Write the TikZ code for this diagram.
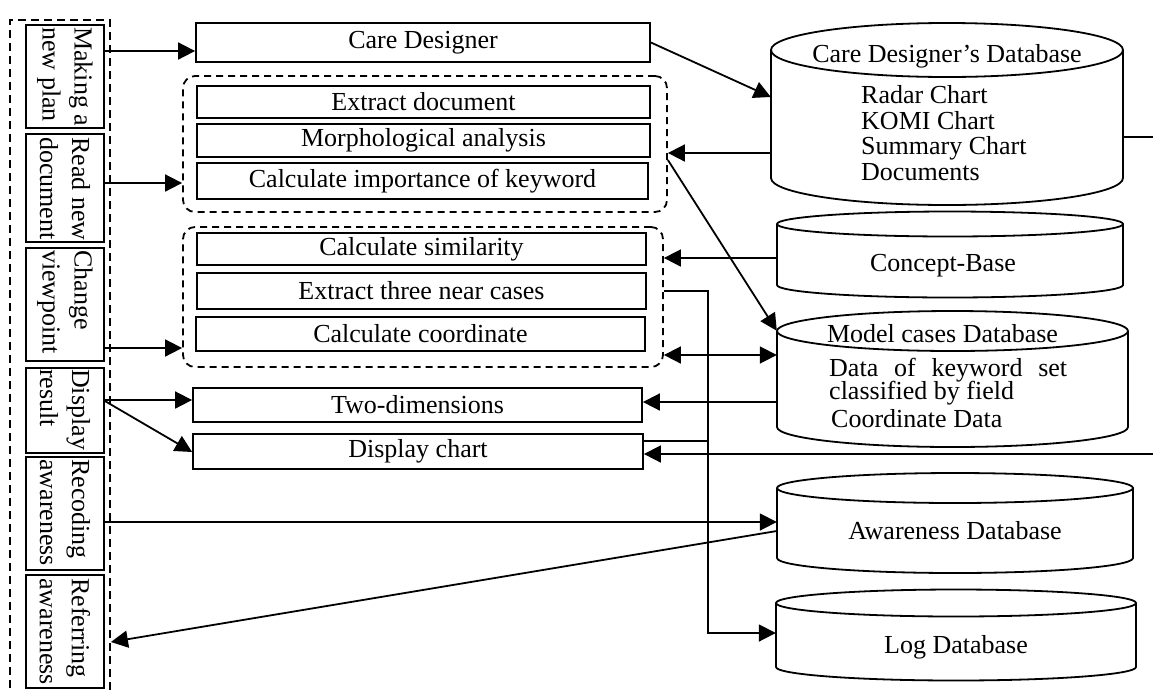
\documentclass[tikz,border=0pt]{standalone}
\usepackage{fontspec}
\setmainfont{Liberation Serif}
\usetikzlibrary{arrows.meta}
\newcommand{\dbshape}[5]{%
  \pgfmathsetmacro\dbrx{(#2-#1)/2}%
  \pgfmathsetmacro\dbcx{(#1+#2)/2}%
  \draw[cyl] (#1,#3) -- (#1,#4) arc[start angle=180,end angle=360,x radius=\dbrx pt,y radius=#5 pt] -- (#2,#3);
  \draw[cyl] (\dbcx,#3) ellipse[x radius=\dbrx pt, y radius=#5 pt];
}
\begin{document}
\begin{tikzpicture}[x=1pt,y=-1pt,
  every node/.style={font=\fontsize{26}{26}\selectfont},
  box/.style={draw, line width=1.8pt, inner sep=0pt},
  grp/.style={draw, dash pattern=on 7pt off 5pt, rounded corners=12pt, line width=1.8pt, inner sep=0pt},
  arr/.style={line width=1.8pt, -{Triangle[length=17pt,width=17pt]}},
  darr/.style={line width=1.8pt, {Triangle[length=17pt,width=17pt]}-{Triangle[length=17pt,width=17pt]}},
  ln/.style={line width=1.8pt},
  cyl/.style={line width=1.8pt},
  ltxt/.style={rotate=-90, anchor=west, align=left, inner sep=0pt, font=\fontsize{26}{32}\selectfont},
  body/.style={inner sep=0pt}
]
\clip (0,0) rectangle (1153,689);

% outer dashed frame
\node[draw, dash pattern=on 8pt off 5pt, line width=1.8pt, minimum width=100pt, minimum height=700pt, inner sep=0pt] (outer) at (60,370) {};

% left boxes
\node[box, minimum width=78pt, minimum height=103pt] (l1) at (65,76.5) {};
\node[box, minimum width=78pt, minimum height=108pt] (l2) at (65,188) {};
\node[box, minimum width=78pt, minimum height=113pt] (l3) at (65,304.5) {};
\node[box, minimum width=78pt, minimum height=85pt] (l4) at (65,410.5) {};
\node[box, minimum width=78pt, minimum height=113pt] (l5) at (65,513.5) {};
\node[box, minimum width=78pt, minimum height=113pt] (l6) at (65,631.5) {};
\node[ltxt] (t1) at (65,27) {Making a\\new plan};
\node[ltxt] (t2) at (65,137) {Read new\\document};
\node[ltxt] (t3) at (65,250) {Change\\viewpoint};
\node[ltxt] (t4) at (65,369) {Display\\result};
\node[ltxt] (t5) at (65,459) {Recoding\\awareness};
\node[ltxt] (t6) at (65,578) {Referring\\awareness};

% process boxes
\node[box, minimum width=454pt, minimum height=39pt] (care) at (423,42.5) {Care Designer};
\node[grp, minimum width=484pt, minimum height=136pt] (g1) at (425,144) {};
\node[box, minimum width=453pt, minimum height=32pt] (ext) at (423.5,102) {Extract document};
\node[box, minimum width=453pt, minimum height=33pt] (morph) at (423.5,140.5) {Morphological analysis};
\node[box, minimum width=451pt, minimum height=36pt] (imp) at (422.5,181) {Calculate importance of keyword};
\node[grp, minimum width=480pt, minimum height=140pt] (g2) at (423,297) {};
\node[box, minimum width=449pt, minimum height=32pt] (sim) at (421.5,249) {Calculate similarity};
\node[box, minimum width=449pt, minimum height=36pt] (near) at (421.5,291) {Extract three near cases};
\node[box, minimum width=449pt, minimum height=34pt] (coord) at (420.5,334) {Calculate coordinate};
\node[box, minimum width=449pt, minimum height=34pt] (two) at (417.5,405) {Two-dimensions};
\node[box, minimum width=450pt, minimum height=35pt] (disp) at (418,451.5) {Display chart};

% databases
\dbshape{771}{1123}{50}{178}{27}
\node[body, minimum width=352pt, minimum height=128pt] (cdb) at (947,114) {};
\node[anchor=base] (cdbt) at (947,62) {Care Designer’s Database};
\node[anchor=north west, align=left, inner sep=0pt, font=\fontsize{26}{25.7}\selectfont] (cdbb) at (861,85.2) {Radar Chart\\KOMI Chart\\Summary Chart\\Documents};

\dbshape{777}{1123}{224}{285}{12.5}
\node[body, minimum width=346pt, minimum height=61pt] (cb) at (950,254.5) {};
\node[anchor=base] (cbt) at (943,271) {Concept-Base};

\dbshape{777}{1128}{331}{427}{20}
\node[body, minimum width=351pt, minimum height=96pt] (mcdb) at (952.5,379) {};
\node[anchor=base] (mcdbt) at (942.5,342) {Model cases Database};
\node[anchor=base west, inner sep=0pt] (mc1) at (829,376) {\makebox[238pt][s]{Data of keyword set}};
\node[anchor=base west, inner sep=0pt] (mc2) at (829,399.5) {classified by field};
\node[anchor=base west, inner sep=0pt] (mc3) at (831,427) {Coordinate Data};

\dbshape{777}{1133}{488}{558}{15}
\node[body, minimum width=356pt, minimum height=70pt] (awr) at (955,523) {};
\node[anchor=base] (awrt) at (955,539) {Awareness Database};

\dbshape{776}{1136}{603}{667}{13.5}
\node[body, minimum width=360pt, minimum height=64pt] (log) at (956,635) {};
\node[anchor=base] (logt) at (956,653) {Log Database};

\coordinate (bus) at (708,291);
\coordinate (rt) at (1165,137);
\coordinate (rb) at (1165,454);

% connectors
\draw[arr] (l1.east |- 0,51) -- (care.west |- 0,51);
\draw[arr] (l2.east |- 0,183) -- (g1.west |- 0,183);
\draw[arr] (l3.east |- 0,348) -- (g2.west |- 0,348);
\draw[arr] (l4.east |- 0,400) -- (two.west |- 0,400);
\draw[arr] (l4.east |- 0,401) -- (disp.west |- 0,452);
\draw[arr] (l5.east |- 0,522) -- (awr.west |- 0,522);
\draw[arr] (awr.west |- 0,531) -- (outer.east |- 0,642);
\draw[arr] (care.east) -- (cdb.west |- 0,97);
\draw[arr] (cdb.west |- 0,153) -- (g1.east |- 0,153);
\draw[arr] (g1.east |- 0,160) -- (mcdb.north west);
\draw[arr] (cb.west |- 0,258) -- (g2.east |- 0,258);
\draw[arr] (g2.east |- 0,291) -- (bus) |- (log.west |- 0,633);
\draw[ln] (disp.east |- 0,441) -- (bus |- 0,441);
\draw[darr] (g2.east |- 0,355) -- (mcdb.west |- 0,355);
\draw[arr] (mcdb.west |- 0,402) -- (two.east |- 0,402);
\draw[arr] (cdb.east |- 0,137) -- (rt) -- (rb) -- (disp.east |- 0,454);
\end{tikzpicture}
\end{document}
